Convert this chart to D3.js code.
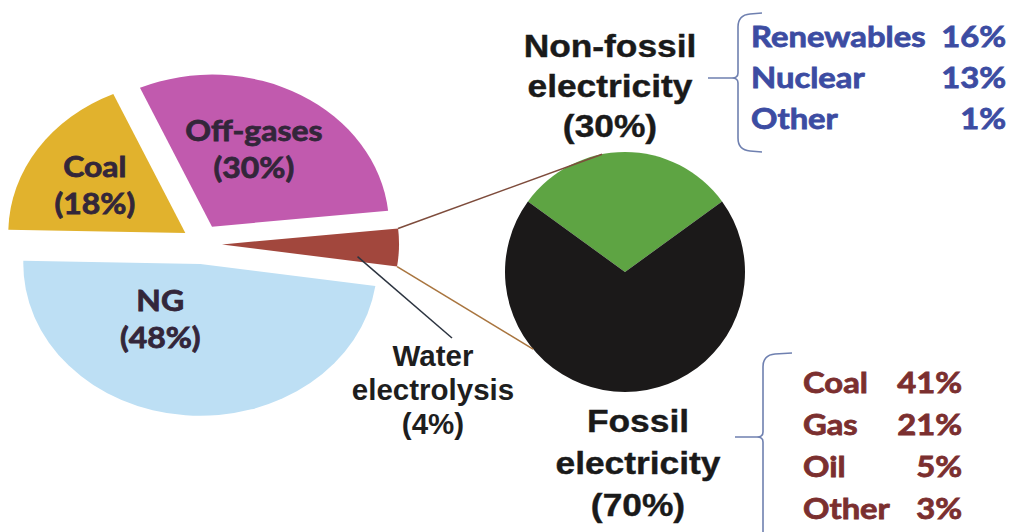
<!DOCTYPE html>
<html>
<head>
<meta charset="utf-8">
<script src="https://cdn.jsdelivr.net/npm/d3@7"></script>
<style>
  html, body { margin: 0; padding: 0; background: #ffffff; }
  svg { display: block; }
</style>
</head>
<body>
<div id="chart"></div>
<script>
// ---------------- DATA ----------------
const feedNames  = ["Off-gases", "Water electrolysis", "NG", "Coal"];
const feedShares = [30, 4, 48, 18];

const elecNames  = ["Non-fossil electricity", "Fossil electricity"];
const elecShares = [30, 70];

const nonFossilNames  = ["Renewables", "Nuclear", "Other"];
const nonFossilShares = [16, 13, 1];

const fossilNames  = ["Coal", "Gas", "Oil", "Other"];
const fossilShares = [41, 21, 5, 3];

// ---------------- STYLE / LAYOUT ----------------
const W = 1016, H = 532;
const deg = Math.PI / 180;
const feedColors = ["#c15aae", "#a2473d", "#bddff4", "#e1b22d"];
const elecColors = ["#5ea443", "#1b1919"];
const feedLabelStyle = [[0.56, -5], null, [0.43, 27], [0.6, -2]]; // [radius factor, angle offset]

const bigPie = { cx: 202, cy: 244, rx: 177, ry: 152, explode: 20, start: -24 };
const smallPie = { cx: 625, cy: 272, r: 120, start: -54 };

const svg = d3.select("#chart").append("svg")
  .attr("width", W).attr("height", H)
  .attr("viewBox", `0 0 ${W} ${H}`);

// ---------------- FEEDSTOCK PIE (elliptical, exploded) ----------------
const feedData = feedNames.map((n, i) => ({ name: n, v: feedShares[i], i }));
const pie1 = d3.pie().sort(null).value(d => d.v)
  .startAngle(bigPie.start * deg).endAngle((bigPie.start + 360) * deg);
const arcs1 = pie1(feedData);
const unitArc = d3.arc().innerRadius(0).outerRadius(1);

function sliceOrigin(a) {
  const mid = (a.startAngle + a.endAngle) / 2;
  return [bigPie.cx + Math.sin(mid) * bigPie.explode,
          bigPie.cy - Math.cos(mid) * bigPie.explode];
}
function pointOn(a, ang, rf) {
  const [ox, oy] = sliceOrigin(a);
  return [ox + Math.sin(ang) * rf * bigPie.rx, oy - Math.cos(ang) * rf * bigPie.ry];
}

const g1 = svg.append("g");
g1.selectAll("path").data(arcs1).join("path")
  .attr("transform", d => {
    const [ox, oy] = sliceOrigin(d);
    return `translate(${ox},${oy}) scale(${bigPie.rx},${bigPie.ry})`;
  })
  .attr("d", unitArc)
  .attr("fill", d => feedColors[d.data.i]);

// labels inside slices
const feedLabelFont = "Lato, 'Open Sans', sans-serif";
arcs1.forEach(a => {
  const st = feedLabelStyle[a.data.i];
  if (!st) return;
  const mid = (a.startAngle + a.endAngle) / 2 + st[1] * deg;
  const [x, c] = pointOn(a, mid, st[0]);
  const lines = [a.data.name, `(${a.data.v}%)`];
  lines.forEach((t, k) => {
    svg.append("text")
      .attr("transform", `translate(${x},${c - 8.5 + k * 37}) scale(1.1,1)`)
      .attr("text-anchor", "middle")
      .attr("font-family", feedLabelFont)
      .attr("font-weight", 700)
      .attr("font-size", 29)
      .attr("fill", "#33263a")
      .attr("stroke", "#33263a").attr("stroke-width", 0.8)
      .text(t);
  });
});

// ---------------- ELECTRICITY PIE ----------------
const elecData = elecNames.map((n, i) => ({ name: n, v: elecShares[i], i }));
const pie2 = d3.pie().sort(null).value(d => d.v)
  .startAngle(smallPie.start * deg).endAngle((smallPie.start + 360) * deg);
const arcs2 = pie2(elecData);
const arc2 = d3.arc().innerRadius(0).outerRadius(smallPie.r);
const g2 = svg.append("g").attr("transform", `translate(${smallPie.cx},${smallPie.cy})`);
g2.selectAll("path").data(arcs2).join("path")
  .attr("d", arc2)
  .attr("fill", d => elecColors[d.data.i]);

// ---------------- CONNECTORS ----------------
const water = arcs1[1];
const wTop = pointOn(water, water.startAngle, 1);
const wBot = pointOn(water, water.endAngle, 1);
const circPt = a => [smallPie.cx + smallPie.r * Math.sin(a * deg), smallPie.cy - smallPie.r * Math.cos(a * deg)];
const cTop = circPt(-11), cBot = circPt(230);
svg.append("line").attr("x1", wTop[0]).attr("y1", wTop[1]).attr("x2", cTop[0]).attr("y2", cTop[1])
  .attr("stroke", "#7e4c3c").attr("stroke-width", 1.6);
svg.append("line").attr("x1", wBot[0]).attr("y1", wBot[1]).attr("x2", cBot[0]).attr("y2", cBot[1])
  .attr("stroke", "#a9753f").attr("stroke-width", 1.6);

// water electrolysis label + pointer
const wLab = { x: 433, y: 366 };
const ptr0 = pointOn(water, 96 * deg, 0.77);
svg.append("line").attr("x1", ptr0[0]).attr("y1", ptr0[1]).attr("x2", wLab.x + 19).attr("y2", wLab.y - 28)
  .attr("stroke", "#2c3440").attr("stroke-width", 1.5);
["Water", "electrolysis", `(${water.data.v}%)`].forEach((t, k) => {
  svg.append("text")
    .attr("transform", `translate(${wLab.x},${wLab.y + k * 34})`)
    .attr("text-anchor", "middle")
    .attr("font-family", "'Liberation Sans', Arial, sans-serif")
    .attr("font-weight", 700).attr("font-size", 29.5)
    .attr("fill", "#1e1e1e").text(t);
});

// ---------------- BIG LABELS ----------------
function bigLabel(name, v, x, y0, step) {
  const parts = name.split(" ");
  [parts[0], parts[1], `(${v}%)`].forEach((t, k) => {
    svg.append("text")
      .attr("transform", `translate(${x},${y0 + k * step}) scale(1.14,1)`)
      .attr("text-anchor", "middle")
      .attr("font-family", "'Liberation Sans', Arial, sans-serif")
      .attr("font-weight", 700).attr("font-size", 31)
      .attr("fill", "#1a1a1a")
      .attr("stroke", "#1a1a1a").attr("stroke-width", 0.4)
      .text(t);
  });
}
bigLabel(elecNames[0], elecShares[0], 610, 57, 40);
bigLabel(elecNames[1], elecShares[1], 638, 432, 42);

// ---------------- BRACES ----------------
function brace(x, y0, y1, ym, tipX, endX) {
  const c = 12;
  return `M${endX},${y0} L${x + c},${y0 + 1} Q${x},${y0 + 2} ${x},${y0 + c + 2}` +
         ` L${x},${ym - 5} Q${x},${ym} ${x - 6},${ym} L${tipX},${ym}` +
         ` M${x - 6},${ym} Q${x},${ym} ${x},${ym + 5}` +
         ` L${x},${y1 - c - 2} Q${x},${y1 - 2} ${x + c},${y1 - 1} L${endX},${y1}`;
}
svg.append("path").attr("d", brace(738, 13, 152, 78, 708, 762))
  .attr("fill", "none").attr("stroke", "#6f80b0").attr("stroke-width", 1.6);
svg.append("path").attr("d", brace(763, 353, 560, 437, 735, 792))
  .attr("fill", "none").attr("stroke", "#6f80b0").attr("stroke-width", 1.6);

// ---------------- LISTS ----------------
function list(names, vals, xName, xVal, y0, step, color) {
  names.forEach((n, k) => {
    svg.append("text")
      .attr("transform", `translate(${xName},${y0 + k * step}) scale(1.13,1)`)
      .attr("font-family", feedLabelFont).attr("font-weight", 700).attr("font-size", 29)
      .attr("fill", color).attr("stroke", color).attr("stroke-width", 0.8).text(n);
    svg.append("text")
      .attr("transform", `translate(${xVal},${y0 + k * step}) scale(1.13,1)`)
      .attr("text-anchor", "end")
      .attr("font-family", feedLabelFont).attr("font-weight", 700).attr("font-size", 29)
      .attr("fill", color).attr("stroke", color).attr("stroke-width", 0.8).text(`${vals[k]}%`);
  });
}
list(nonFossilNames, nonFossilShares, 751, 1006, 47, 41, "#3c4ca2");
list(fossilNames, fossilShares, 803, 962, 393, 42, "#7b2f2f");
</script>
</body>
</html>
